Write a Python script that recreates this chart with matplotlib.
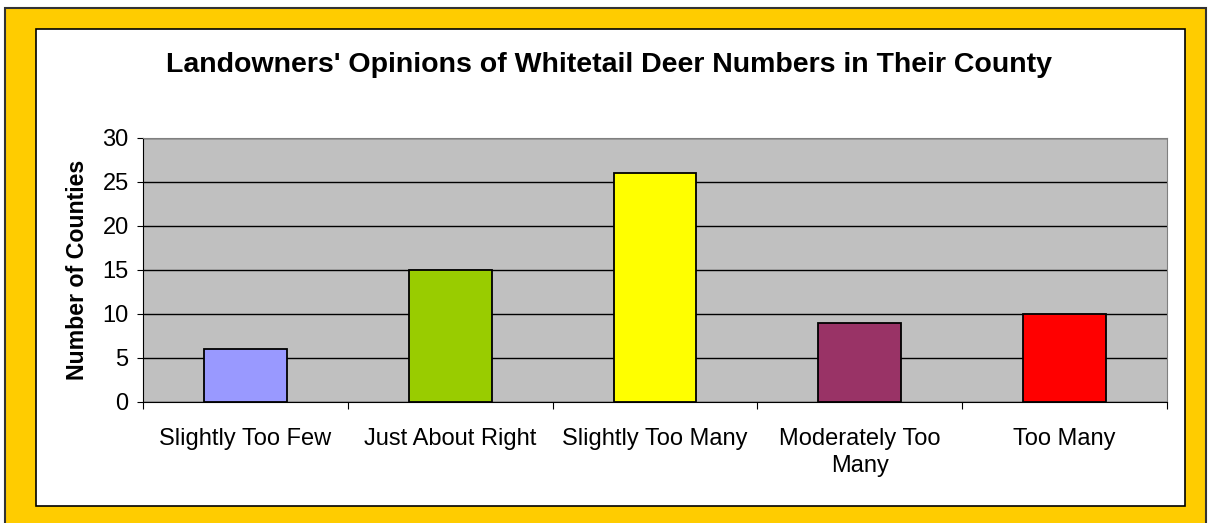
import matplotlib.pyplot as plt
from matplotlib.patches import Rectangle

categories = ['Slightly Too Few', 'Just About Right', 'Slightly Too Many',
              'Moderately Too\nMany', 'Too Many']
counts = [6, 15, 26, 9, 10]
colors = ['#9999FF', '#99CC00', '#FFFF00', '#993366', '#FF0000']

W, H = 1209, 523
fig = plt.figure(figsize=(W / 100, H / 100), dpi=100)
fig.patch.set_facecolor('white')

# yellow frame and white inner panel (pixel coords -> figure fraction)
def px_rect(x0, y0, x1, y1, **kw):
    return Rectangle((x0 / W, 1 - y1 / H), (x1 - x0) / W, (y1 - y0) / H,
                     transform=fig.transFigure, zorder=-5, **kw)

fig.patches.append(px_rect(5, 8, 1206, 530, facecolor='#FFCC00',
                           edgecolor='#333333', linewidth=1.5))
fig.patches.append(px_rect(36, 29, 1185, 506, facecolor='white',
                           edgecolor='black', linewidth=1.2))

ax = fig.add_axes([143 / W, 1 - 402 / H, (1167 - 143) / W, (402 - 138) / H])
ax.set_facecolor('#C0C0C0')

x = list(range(len(categories)))
ax.bar(x, counts, width=0.405, color=colors, edgecolor='black', linewidth=1.3, zorder=3)

ax.set_xlim(-0.5, len(categories) - 0.5)
ax.set_ylim(0, 30)
ax.set_yticks(range(0, 31, 5))
ax.yaxis.grid(True, color='black', linewidth=1, zorder=0)
ax.set_axisbelow(True)

ax.set_xticks([i - 0.5 for i in range(len(categories) + 1)])
ax.set_xticklabels([])
ax.set_xticks(x, minor=True)
ax.set_xticklabels(categories, minor=True, fontsize=17, family='Liberation Sans',
                   linespacing=1.3)
ax.tick_params(axis='x', which='minor', length=0, pad=19)
ax.tick_params(axis='x', which='major', length=5, color='black', direction='out')
ax.tick_params(axis='y', length=4.3, direction='out', labelsize=17, pad=6)
for lab in ax.get_yticklabels():
    lab.set_family('Liberation Sans')

for s in ['top', 'right']:
    ax.spines[s].set_color('#808080')
ax.spines['left'].set_color('black')
ax.spines['bottom'].set_color('black')

ax.set_ylabel('Number of Counties', fontsize=16.7, fontweight='bold',
              family='Liberation Sans')
ax.yaxis.set_label_coords(-0.053, 0.5)

fig.text(609 / W, 1 - 65 / H,
         "Landowners' Opinions of Whitetail Deer Numbers in Their County",
         ha='center', va='center', fontsize=20.5, fontweight='bold',
         family='Liberation Sans')

fig.savefig('out.png', dpi=100)
